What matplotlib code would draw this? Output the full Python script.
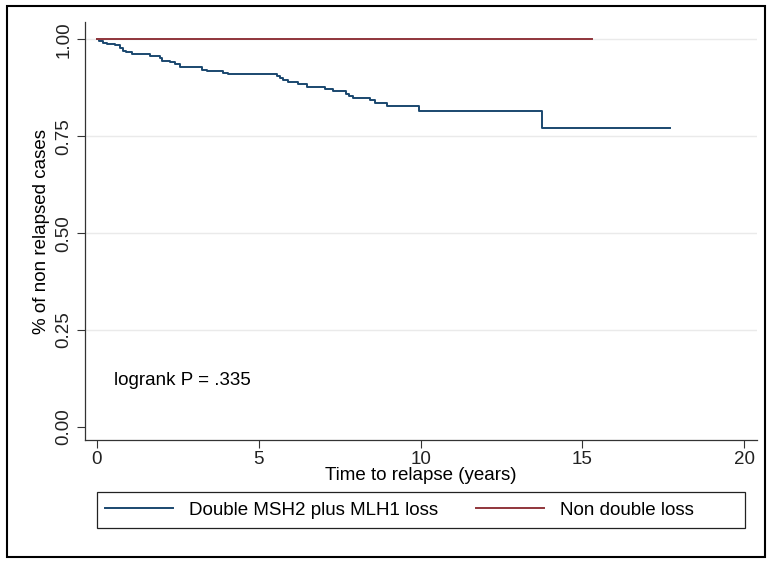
import matplotlib
matplotlib.use("Agg")
import matplotlib.pyplot as plt
from matplotlib.patches import Rectangle

plt.rcParams['font.family'] = ['Liberation Sans', 'DejaVu Sans']

# Kaplan-Meier estimate (step changes)
double_t = [0, 0.07, 0.2, 0.3, 0.55, 0.7, 0.8, 0.9, 1.07, 1.63, 1.95, 2.0, 2.27,
            2.4, 2.55, 3.25, 3.4, 3.9, 4.05, 5.55, 5.65, 5.75, 5.9, 6.2, 6.5,
            7.05, 7.3, 7.7, 7.8, 7.9, 8.45, 8.6, 8.95, 9.95, 13.75, 17.7]
double_s = [1.0, 0.995, 0.991, 0.987, 0.985, 0.977, 0.969, 0.966, 0.961, 0.957,
            0.953, 0.944, 0.941, 0.936, 0.929, 0.922, 0.918, 0.914, 0.91, 0.905,
            0.899, 0.894, 0.889, 0.884, 0.877, 0.871, 0.867, 0.86, 0.854, 0.849,
            0.843, 0.836, 0.828, 0.814, 0.77, 0.77]
non_t = [0, 15.3]
non_s = [1.0, 1.0]

xticks = [0, 5, 10, 15, 20]
yticks = [0.0, 0.25, 0.5, 0.75, 1.0]
ytick_labels = ["0.00", "0.25", "0.50", "0.75", "1.00"]

blue = "#1a476f"
red = "#90353b"
fs = 13.5

fig = plt.figure(figsize=(7.7, 5.63), dpi=100)
ax = fig.add_axes([0.1104, 0.2185, 0.873, 0.742])

ax.step(double_t, double_s, where="post", color=blue, lw=1.4,
        label="Double MSH2 plus MLH1 loss")
ax.step(non_t, non_s, where="post", color=red, lw=1.4, label="Non double loss")

ax.set_xlim(-0.37, 20.4)
ax.set_ylim(-0.0335, 1.044)
ax.set_xticks(xticks)
ax.set_yticks(yticks)
ax.set_yticklabels(ytick_labels, rotation=90, va="center")
ax.tick_params(labelsize=fs, length=6, width=0.8, color="#333333",
               labelcolor="#222222")
ax.tick_params(axis="y", pad=3)
ax.tick_params(axis="x", pad=2)

for v in yticks:
    if v > 0:
        ax.axhline(v, color="#eaeaea", lw=1, zorder=0)

for side in ["top", "right"]:
    ax.spines[side].set_visible(False)
for side in ["left", "bottom"]:
    ax.spines[side].set_color("#333333")
    ax.spines[side].set_linewidth(0.9)

ax.set_xlabel("Time to relapse (years)", fontsize=fs, labelpad=-1)
ax.set_ylabel("% of non relapsed cases", fontsize=fs, labelpad=4)

ax.text(0.53, 0.121, "logrank P = .335", fontsize=fs, va="center", ha="left")

# legend entries without frame; the frame spans x = 0..20 like the original
leg = fig.legend(loc="center left", bbox_to_anchor=(105 / 770, 53 / 563), ncol=2,
                 fontsize=fs, handlelength=3.63, handletextpad=0.85,
                 columnspacing=2.03, frameon=False, borderpad=0,
                 borderaxespad=0)
fig.patches.append(Rectangle((97 / 770, 35 / 563), 648 / 770, 36 / 563,
                             transform=fig.transFigure, fill=False,
                             edgecolor="#222222", lw=0.9))

# outer frame around the whole graph
fig.patches.append(Rectangle((7 / 770, 6 / 563), 758 / 770, 551 / 563,
                             transform=fig.transFigure, fill=False,
                             edgecolor="black", lw=1.5))

fig.savefig("out.png", dpi=100)
